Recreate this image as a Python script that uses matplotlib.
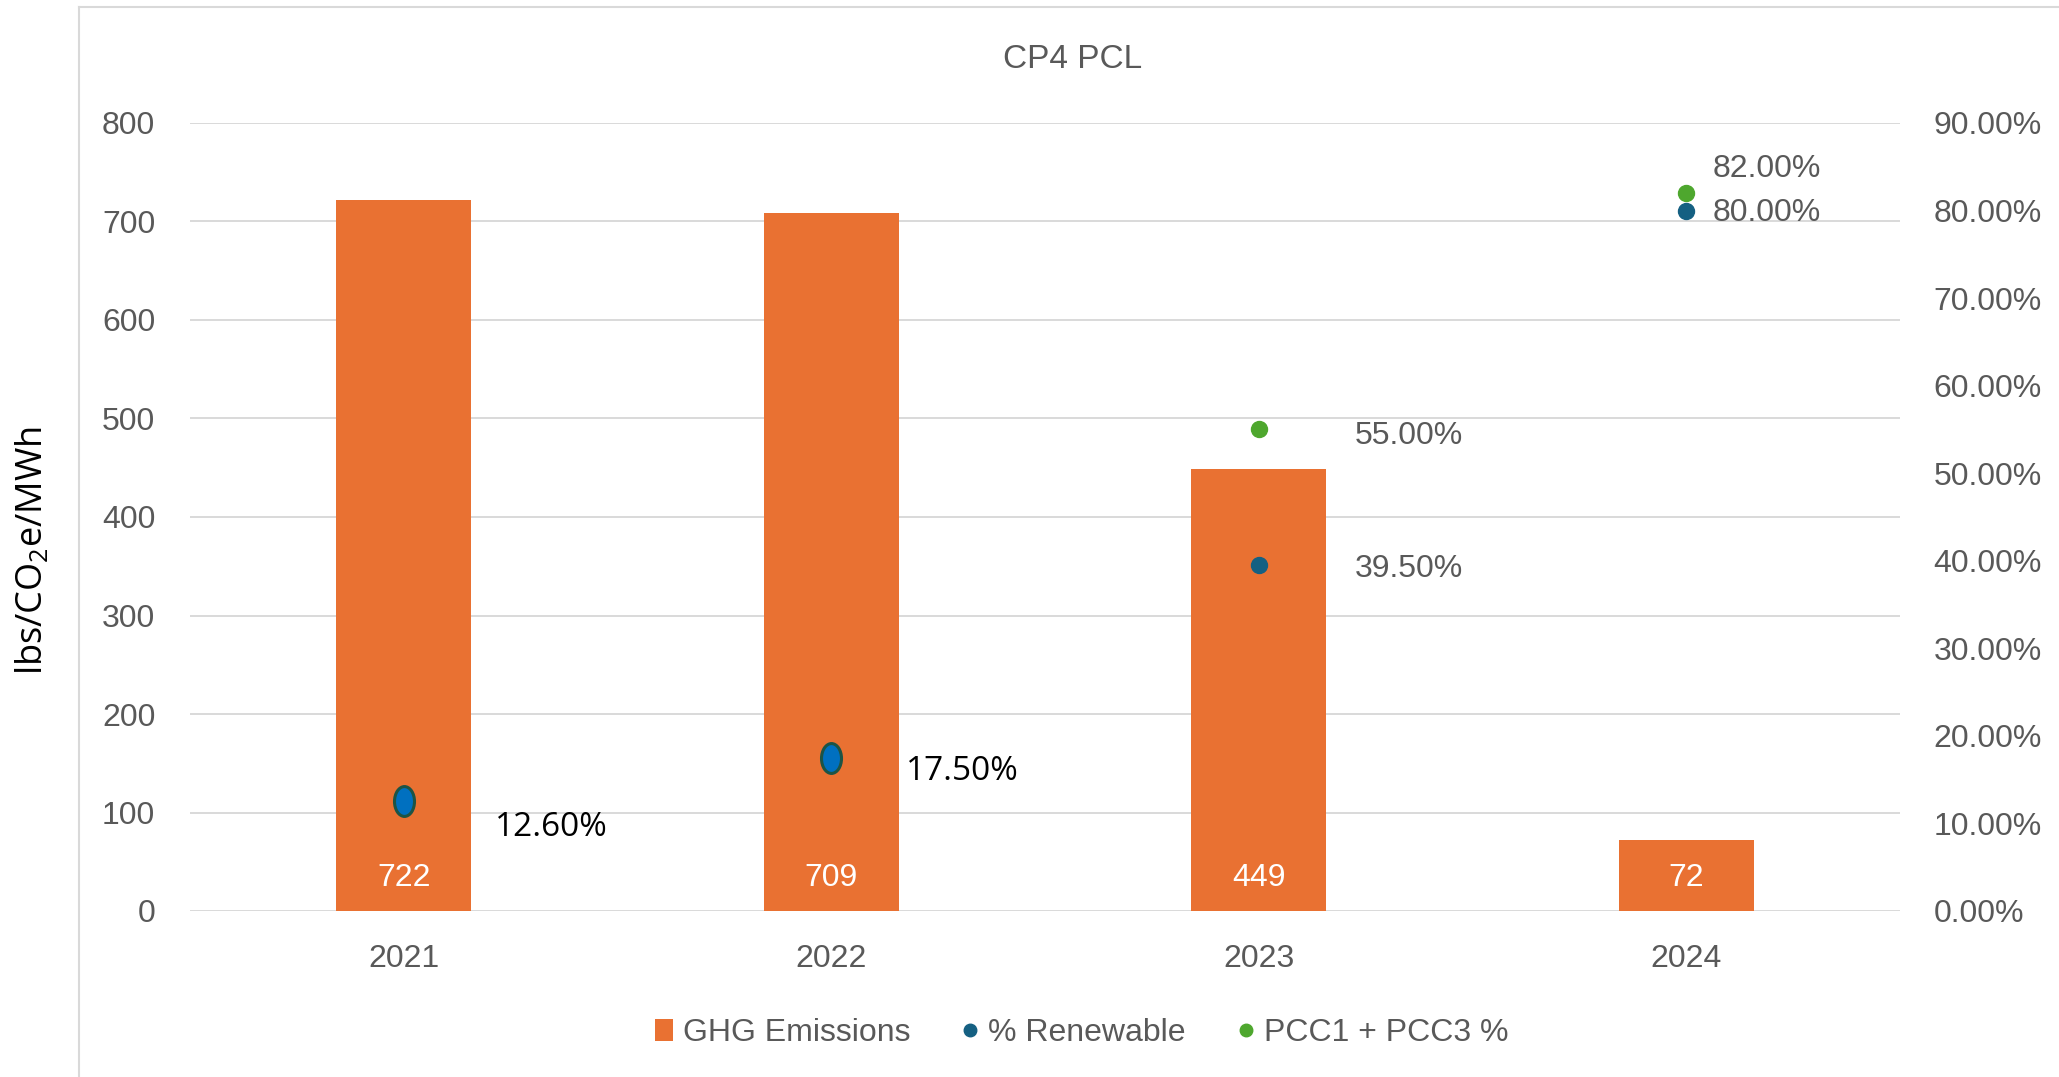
import numpy as np
import matplotlib
matplotlib.use('Agg')
import matplotlib.pyplot as plt
from matplotlib.lines import Line2D
from matplotlib.patches import Patch
from matplotlib.markers import MarkerStyle
from matplotlib.transforms import Affine2D
from matplotlib.ticker import FuncFormatter

plt.rcParams['font.family'] = ['Liberation Sans', 'DejaVu Sans']
plt.rcParams['mathtext.default'] = 'regular'

years = ['2021', '2022', '2023', '2024']
ghg = [722, 709, 449, 72]
renewable = [0.126, 0.175, 0.395, 0.80]
pcc_years = ['2023', '2024']
pcc = [0.55, 0.82]

orange = '#E97132'
blue = '#156082'
green = '#4EA72E'
gris = '#595959'
grid_c = '#D9D9D9'

fig = plt.figure(figsize=(20.59, 10.77), dpi=100)
ax = fig.add_axes([190/2059, 166/1077, 1710/2059, 788/1077])
ax2 = ax.twinx()

x = np.arange(len(years))
bars = ax.bar(x, ghg, width=0.316, color=orange, zorder=2)

# etiquetas blancas dentro de las barras
for xi, v in zip(x, ghg):
	ax.annotate(str(v), (xi, 0), xytext=(0, 23.5), textcoords='offset points',
		ha='center', va='center', color='white', fontsize=23, zorder=3)

ax.set_xlim(-0.5, len(years) - 0.5)
ax.set_ylim(0, 800)
ax.set_yticks(np.arange(0, 801, 100))
ax.set_xticks(x)
ax.set_xticklabels(years)
ax.yaxis.grid(True, color=grid_c, linewidth=1.4, zorder=0)
ax.set_axisbelow(True)
ax.tick_params(axis='both', length=0, labelsize=23, colors=gris)
ax.tick_params(axis='y', pad=25)
ax.tick_params(axis='x', pad=24)

ax2.set_ylim(0, 0.9)
ax2.set_yticks(np.arange(0, 0.91, 0.1))
ax2.yaxis.set_major_formatter(FuncFormatter(lambda v, p: '{:.2f}%'.format(v*100)))
ax2.tick_params(axis='y', length=0, labelsize=23, colors=gris, pad=24)

for a in (ax, ax2):
	for s in a.spines.values():
		s.set_visible(False)

# % renovable: 2021 y 2022 con marcador ovalado, el resto punto normal
oval = MarkerStyle('o', transform=Affine2D().scale(0.67, 1.0))
ax2.plot(x[:2], renewable[:2], linestyle='none', marker=oval, markersize=21.5,
	markerfacecolor='#0070C0', markeredgecolor='#1D5445', markeredgewidth=2.2, zorder=4)
ax2.plot(x[2:], renewable[2:], linestyle='none', marker='o', markersize=11.5,
	color=blue, zorder=4)

px = [years.index(y) for y in pcc_years]
ax2.plot(px, pcc, linestyle='none', marker='o', markersize=11.5, color=green, zorder=4)

# etiquetas de los puntos
offs_ren = [(66, -19), (54, -10), (69, -3), (19, -2)]
for i in range(len(years)):
	lab = '{:.2f}%'.format(renewable[i]*100)
	if i < 2:
		ax2.annotate(lab, (x[i], renewable[i]), xytext=offs_ren[i], textcoords='offset points',
			ha='left', va='center', fontsize=24, color='black', family=['Open Sans', 'DejaVu Sans'])
	else:
		ax2.annotate(lab, (x[i], renewable[i]), xytext=offs_ren[i], textcoords='offset points',
			ha='left', va='center', fontsize=23, color=gris)

offs_pcc = [(69, -5), (19, 17)]
for i in range(len(pcc)):
	ax2.annotate('{:.2f}%'.format(pcc[i]*100), (px[i], pcc[i]), xytext=offs_pcc[i],
		textcoords='offset points', ha='left', va='center', fontsize=23, color=gris)

fig.text(1073/2059, 1 - 60/1077, 'CP4 PCL', ha='center', va='center', fontsize=24, color=gris)
fig.text(33/2059, 1 - 551/1077, 'lbs/CO$_2$e/MWh', rotation=90, ha='center', va='center',
	fontsize=26, color='black', family=['Open Sans', 'DejaVu Sans'])

handles = [Patch(facecolor=orange, edgecolor='none'),
	Line2D([], [], linestyle='none', marker='o', markersize=9, color=blue),
	Line2D([], [], linestyle='none', marker='o', markersize=9, color=green)]
fig.legend(handles, ['GHG Emissions', '% Renewable', 'PCC1 + PCC3 %'], loc='center',
	bbox_to_anchor=(1082/2059, 1 - 1033/1077), ncol=3, frameon=False, fontsize=23,
	labelcolor=gris, handlelength=0.55, handleheight=0.7, handletextpad=0.3, columnspacing=1.6)

# marco del grafico (sale por la derecha y por abajo)
fig.add_artist(Line2D([79/2059, 79/2059], [0, 1 - 7/1077], transform=fig.transFigure, color=grid_c, lw=1.5))
fig.add_artist(Line2D([79/2059, 1], [1 - 7/1077, 1 - 7/1077], transform=fig.transFigure, color=grid_c, lw=1.5))

plt.savefig('out.png', dpi=100)
